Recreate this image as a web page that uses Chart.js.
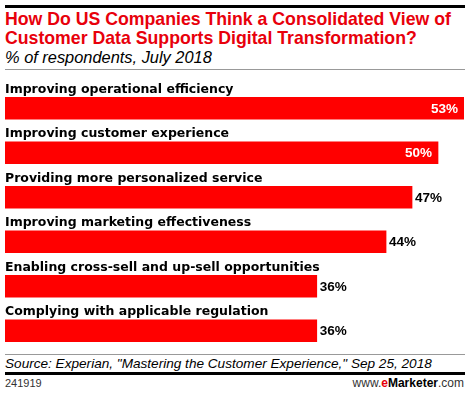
<!DOCTYPE html>
<html>
<head>
<meta charset="utf-8">
<script src="https://cdn.jsdelivr.net/npm/chart.js@4"></script>
<style>
  body { margin: 0; background: #fff; font-family: "Liberation Sans", Arial, sans-serif; }
  #wrap { position: relative; width: 470px; height: 396px; overflow: hidden; }
  .abs { position: absolute; white-space: nowrap; }
  #topline { left: 5px; top: 5px; width: 460px; height: 3px; background: #000; }
  #title { left: 5px; top: 10px; font-weight: bold; font-size: 17.7px; line-height: 19px; color: #e8000b; }
  #sub { left: 5px; top: 48px; font-style: italic; font-size: 16.4px; color: #000; }
  #grayline { left: 5px; top: 69px; width: 460px; height: 1px; background: #999; }
  #chartbox { left: 0; top: 72px; width: 470px; height: 281px; }
  #srcline { left: 5px; top: 354px; width: 460px; height: 1px; background: #999; }
  #source { left: 5px; top: 356px; font-style: italic; font-size: 13.6px; color: #000; }
  #botline { left: 5px; top: 372px; width: 460px; height: 3px; background: #000; }
  #code { left: 5px; top: 377px; font-size: 11px; color: #333; }
  #brand { right: 6px; top: 376px; font-size: 12px; color: #333; }
  #brand b { color: #000; }
  #brand .e { color: #e8000b; }
</style>
</head>
<body>
<div id="wrap">
  <div class="abs" id="topline"></div>
  <div class="abs" id="title">How Do US Companies Think a Consolidated View of<br>Customer Data Supports Digital Transformation?</div>
  <div class="abs" id="sub">% of respondents, July 2018</div>
  <div class="abs" id="grayline"></div>
  <div class="abs" id="chartbox"><canvas id="chart" width="470" height="281"></canvas></div>
  <div class="abs" id="srcline"></div>
  <div class="abs" id="source">Source: Experian, "Mastering the Customer Experience," Sep 25, 2018</div>
  <div class="abs" id="botline"></div>
  <div class="abs" id="code">241919</div>
  <div class="abs" id="brand">www.<b class="e">e</b><b>Marketer</b>.com</div>
</div>
<script>
// Data for the chart
const categories = [
    'Improving operational efficiency',
    'Improving customer experience',
    'Providing more personalized service',
    'Improving marketing effectiveness',
    'Enabling cross-sell and up-sell opportunities',
    'Complying with applicable regulation'
];
const values = [53, 50, 47, 44, 36, 36];

// labels above bars + value labels at bar ends
const barLabels = {
    id: 'barLabels',
    afterDatasetsDraw(chart) {
        const c = chart.ctx;
        const area = chart.chartArea;
        const bars = chart.getDatasetMeta(0).data;
        c.save();
        bars.forEach((bar, i) => {
            // category label
            c.textBaseline = 'alphabetic';
            c.font = 'bold 12.5px "DejaVu Sans", sans-serif';
            c.fillStyle = '#000';
            c.textAlign = 'left';
            c.fillText(categories[i], area.left, bar.y - 15.5);
            // value label
            c.font = 'bold 13.5px "Liberation Sans", Arial, sans-serif';
            const txt = values[i] + '%';
            const w = c.measureText(txt).width;
            c.textBaseline = 'middle';
            if (bar.x + 3 + w > area.right) {
                c.fillStyle = '#fff';
                c.textAlign = 'right';
                c.fillText(txt, bar.x - 6, bar.y + 1);
            } else {
                c.fillStyle = '#000';
                c.textAlign = 'left';
                c.fillText(txt, bar.x + 3, bar.y + 1);
            }
        });
        c.restore();
    }
};

const ctx = document.getElementById('chart').getContext('2d');
const chart = new Chart(ctx, {
    type: 'bar',
    data: {
        labels: categories,
        datasets: [{
            data: values,
            backgroundColor: '#ff0000',
            borderWidth: 0,
            barThickness: 22
        }]
    },
    options: {
        indexAxis: 'y',
        responsive: false,
        animation: false,
        layout: { padding: { left: 5, right: 6, top: 14, bottom: 0 } },
        plugins: {
            legend: { display: false },
            tooltip: { enabled: false }
        },
        scales: {
            x: { display: false, min: 0, max: 53 },
            y: { display: false }
        }
    },
    plugins: [barLabels]
});
</script>
</body>
</html>
